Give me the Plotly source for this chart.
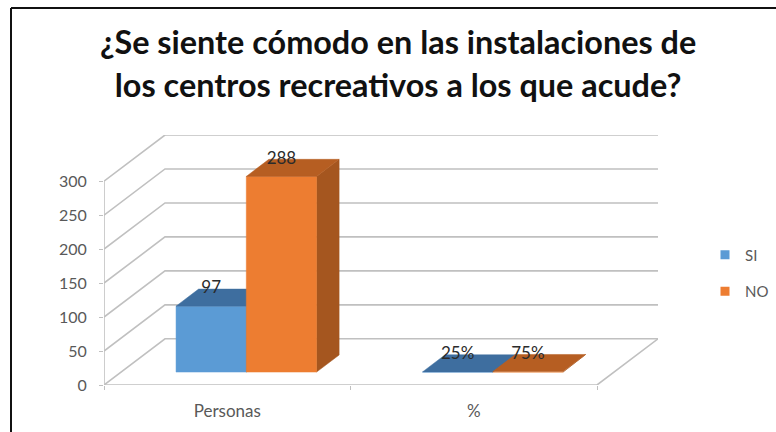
import plotly.graph_objects as go

categories = ["Personas", "%"]
series_names = ["SI", "NO"]
si_values = [97, 0.25]
no_values = [288, 0.75]
si_labels = ["97", "25%"]
no_labels = ["288", "75%"]
y_ticks = [0, 50, 100, 150, 200, 250, 300]
title_text = "¿Se siente cómodo en las instalaciones de<br>los centros recreativos a los que acude?"

# projection of the pseudo-3D box (in axis units)
DX = 61 / 246.5     # depth shift along x, categories
DY = 46 * 300 / 203  # depth shift along y, value units
BAR_START = 0.223
BAR_W = 0.285
D0, D1 = 0.28, 0.65


def proj(x, v, d=0.0):
    return x + d * DX, v + d * DY


def poly(pts):
    xy = [proj(*p) for p in pts]
    xs = [p[0] for p in xy] + [xy[0][0]]
    ys = [p[1] for p in xy] + [xy[0][1]]
    return xs, ys


fig = go.Figure()
GRID = "#c0c0c0"


def line(pts, color=GRID, width=1.6):
    xs, ys = zip(*[proj(*p) for p in pts])
    fig.add_trace(go.Scatter(x=xs, y=ys, mode="lines", line=dict(color=color, width=width),
                             showlegend=False, hoverinfo="skip"))


for t in y_ticks:
    line([(0, t, 0), (0, t, 1), (2, t, 1)])
line([(0, 0, 0), (0, y_ticks[-1], 0)])
line([(0, 0, 0), (2, 0, 0), (2, 0, 1)])


def face(pts, color):
    xs, ys = poly(pts)
    fig.add_trace(go.Scatter(x=xs, y=ys, mode="lines", fill="toself", fillcolor=color,
                             line=dict(color=color, width=0.5), showlegend=False, hoverinfo="skip"))


palette = [("#5B9BD5", "#3E6E9F", "#3A6796"), ("#ED7D31", "#B65E22", "#A5561F")]
for c in range(len(categories)):
    for s, vals in enumerate([si_values, no_values]):
        x0 = c + BAR_START + s * BAR_W
        x1 = x0 + BAR_W
        v = vals[c]
        front, top, side = palette[s]
        face([(x1, 0, D0), (x1, 0, D1), (x1, v, D1), (x1, v, D0)], side)
        face([(x0, 0, D0), (x1, 0, D0), (x1, v, D0), (x0, v, D0)], front)
        face([(x0, v, D0), (x1, v, D0), (x1, v, D1), (x0, v, D1)], top)

for s, (vals, labs) in enumerate([(si_values, si_labels), (no_values, no_labels)]):
    lx, ly = [], []
    for c in range(len(categories)):
        lx.append(proj(c + BAR_START + (s + 0.5) * BAR_W, 0, D0)[0])
        ly.append(proj(0, vals[c], D1)[1])
    fig.add_trace(go.Scatter(x=lx, y=ly, mode="text", text=labs, textposition="middle center",
                             textfont=dict(family="Lato", size=17, color="#2b2b2b"),
                             showlegend=False, hoverinfo="skip", cliponaxis=False))

for s, name in enumerate(series_names):
    fig.add_trace(go.Scatter(x=[None], y=[None], mode="markers", name=name, legendgroup=name,
                             marker=dict(symbol="square", size=9, color=palette[s][0])))

fig.update_layout(
    width=776, height=432, autosize=False,
    margin=dict(l=104, r=118, t=135, b=47),
    paper_bgcolor="white", plot_bgcolor="white",
    font=dict(family="Lato", color="#595959", size=16),
    title=dict(text=title_text, x=0.513, xanchor="center", y=0.874, yanchor="top",
               font=dict(family="Lato", size=32.4, color="#111111", weight="bold")),
    legend=dict(xref="container", yref="container", x=705 / 776, xanchor="left", y=1 - 273 / 432, yanchor="middle",
                tracegroupgap=14, bgcolor="rgba(0,0,0,0)", font=dict(size=15, color="#595959")),
    xaxis=dict(range=[0, 2 + DX], tickmode="array", tickvals=[0.5, 1.5], ticktext=categories,
               showgrid=False, zeroline=False, ticks="", ticklen=0, ticklabelstandoff=14, tickfont=dict(size=17),
               minor=dict(tickmode="array", tickvals=[0, 1, 2], ticks="outside", ticklen=4, tickcolor=GRID)),
    yaxis=dict(range=[0, 300 + DY], tickmode="array", tickvals=y_ticks, showgrid=False, zeroline=False,
               ticks="outside", ticklen=4, tickcolor=GRID, ticklabelstandoff=9),
    shapes=[
        dict(type="line", xref="paper", yref="paper", x0=-93 / 554, x1=1 + 118 / 554, y0=1 + 127 / 250, y1=1 + 127 / 250,
             line=dict(color="#111111", width=2)),
        dict(type="line", xref="paper", yref="paper", x0=-93 / 554, x1=-93 / 554, y0=-47 / 250, y1=1 + 127 / 250,
             line=dict(color="#111111", width=2)),
    ],
    showlegend=True,
)
fig.write_html("out.html", config={"displayModeBar": False},
               post_script="document.body.style.margin='0';document.documentElement.style.overflow='hidden';")
